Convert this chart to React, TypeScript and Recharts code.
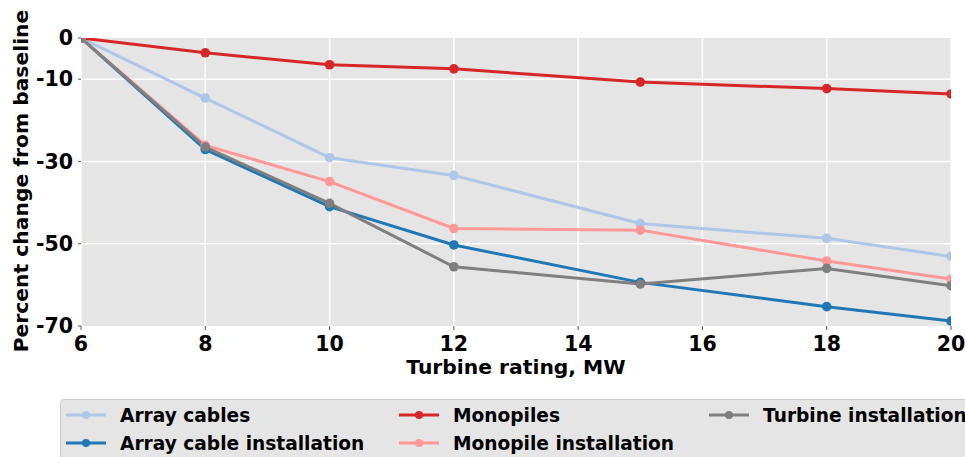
import { CartesianGrid, Legend, Line, LineChart, XAxis, YAxis } from 'recharts';

// Turbine ratings (MW)
const ratings = [6, 8, 10, 12, 15, 18, 20];

// Percent change from baseline
const arrayCables = [0, -14.6, -29.1, -33.4, -45.1, -48.7, -53.1];
const arrayCableInstallation = [0, -27.1, -41.0, -50.3, -59.4, -65.3, -68.8];
const monopiles = [0, -3.6, -6.5, -7.5, -10.7, -12.3, -13.6];
const monopileInstallation = [0, -26.1, -34.9, -46.3, -46.7, -54.2, -58.6];
const turbineInstallation = [0, -26.5, -40.2, -55.6, -59.8, -56.0, -60.2];

const xTicks = [6, 8, 10, 12, 14, 16, 18, 20];
const yTicks = [0, -10, -30, -50, -70];

const series = [
    { key: 'arrayCables', name: 'Array cables', color: '#aec7e8', values: arrayCables },
    { key: 'arrayCableInstallation', name: 'Array cable installation', color: '#1f77b4', values: arrayCableInstallation },
    { key: 'monopiles', name: 'Monopiles', color: '#d62728', values: monopiles },
    { key: 'monopileInstallation', name: 'Monopile installation', color: '#ff9896', values: monopileInstallation },
    { key: 'turbineInstallation', name: 'Turbine installation', color: '#7f7f7f', values: turbineInstallation },
];

const data = ratings.map((r, i) => {
    const row: any = { rating: r };
    series.forEach(s => { row[s.key] = s.values[i]; });
    return row;
});

const FONT = '"DejaVu Sans", sans-serif';

const renderLegend = () => (
    <div
        style={{
            width: 940,
            height: 62,
            boxSizing: 'border-box',
            background: '#e5e5e5',
            border: '1px solid #cccccc',
            borderRadius: 4,
            padding: '1px 0 0 5px',
            display: 'grid',
            gridTemplateRows: '28px 28px',
            gridTemplateColumns: '333px 310px 300px',
            gridAutoFlow: 'column',
            fontFamily: FONT,
            fontWeight: 'bold',
            fontSize: 18.6,
            color: '#000',
        }}
    >
        {series.map(s => (
            <div key={s.key} style={{ display: 'flex', alignItems: 'center', whiteSpace: 'nowrap' }}>
                <svg width={40} height={12} style={{ marginRight: 14 }}>
                    <line x1={0} y1={6} x2={40} y2={6} stroke={s.color} strokeWidth={3} />
                    <circle cx={20} cy={6} r={4} fill={s.color} />
                </svg>
                <span>{s.name}</span>
            </div>
        ))}
    </div>
);

const App = () => {
    return (
        <div style={{ position: 'absolute', left: 0, top: 0, width: 965, height: 457, overflow: 'hidden', background: '#fff' }}>
            <LineChart
                width={965}
                height={457}
                data={data}
                margin={{ top: 38, right: 14, bottom: 81, left: 21 }}
            >
                <CartesianGrid fill="#e5e5e5" stroke="#ffffff" strokeWidth={1.5} horizontalValues={[-10, -30, -50]} />
                <XAxis
                    dataKey="rating"
                    type="number"
                    domain={[6, 20]}
                    ticks={xTicks}
                    allowDataOverflow
                    height={50}
                    axisLine={false}
                    tickSize={4}
                    tickMargin={6}
                    tickLine={{ stroke: '#555' }}
                    tick={{ fill: '#000', fontFamily: FONT, fontWeight: 'bold', fontSize: 20.5 }}
                    label={{
                        content: () => (
                            <text x={516} y={374} textAnchor="middle" fontFamily={FONT} fontWeight="bold" fontSize={20.3} fill="#000">
                                Turbine rating, MW
                            </text>
                        ),
                    }}
                />
                <YAxis
                    type="number"
                    domain={[-70, 0]}
                    ticks={yTicks}
                    allowDataOverflow
                    width={60}
                    axisLine={false}
                    tickSize={3}
                    tickMargin={5}
                    tickLine={{ stroke: '#555' }}
                    tick={{ fill: '#000', fontFamily: FONT, fontWeight: 'bold', fontSize: 20.5 }}
                    label={{
                        content: () => (
                            <text
                                x={21}
                                y={181}
                                transform="rotate(-90, 21, 181)"
                                textAnchor="middle"
                                dominantBaseline="central"
                                fontFamily={FONT}
                                fontWeight="bold"
                                fontSize={20.3}
                                fill="#000"
                            >
                                Percent change from baseline
                            </text>
                        ),
                    }}
                />
                <Legend
                    layout="vertical"
                    align="center"
                    verticalAlign="middle"
                    wrapperStyle={{ left: 60, top: 399, width: 940 }}
                    content={renderLegend}
                />
                {series.map(s => (
                    <Line
                        key={s.key}
                        type="linear"
                        dataKey={s.key}
                        name={s.name}
                        stroke={s.color}
                        strokeWidth={3}
                        dot={{ r: 4.8, fill: s.color, stroke: s.color, strokeWidth: 0 }}
                        activeDot={false}
                        isAnimationActive={false}
                    />
                ))}
            </LineChart>
        </div>
    );
};

export default App;
